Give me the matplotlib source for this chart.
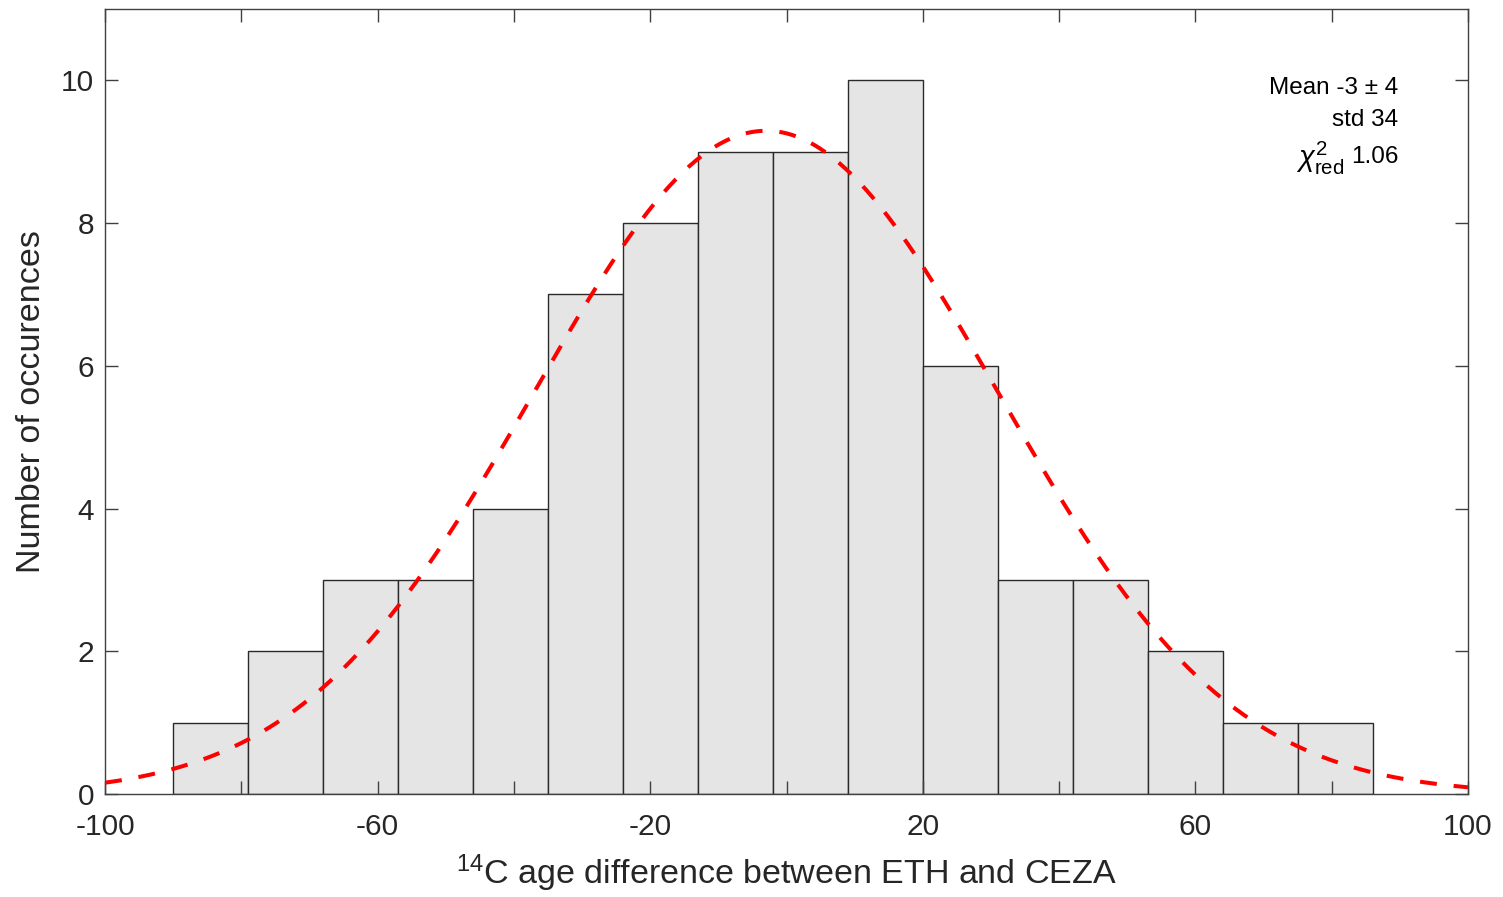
import matplotlib
matplotlib.use('Agg')
import matplotlib.pyplot as plt
import numpy as np

plt.rcParams['font.family'] = ['Liberation Sans', 'DejaVu Sans']
plt.rcParams['mathtext.fontset'] = 'custom'
plt.rcParams['mathtext.rm'] = 'Liberation Sans'
plt.rcParams['mathtext.it'] = 'Liberation Sans:italic'

# histogram of 14C age differences (ETH - CEZA)
bin_start = -90
bin_width = 11
counts = [1, 2, 3, 3, 4, 7, 8, 9, 9, 10, 6, 3, 3, 2, 1, 1]

# fitted gaussian
fit_mean = -3
fit_std = 34

stats_lines = ['Mean -3 \u00b1 4', 'std 34']
chi_label = r'$\chi^2_{\mathrm{red}}$'
chi_value = '1.06'

x_ticks = [-100, -80, -60, -40, -20, 0, 20, 40, 60, 80, 100]
x_tick_labels = ['-100', '', '-60', '', '-20', '', '20', '', '60', '', '100']
y_ticks = [0, 2, 4, 6, 8, 10]

edges = bin_start + bin_width * np.arange(len(counts) + 1)
n_total = sum(counts)

fig = plt.figure(figsize=(15.03, 8.97), dpi=100)
ax = fig.add_axes([0.0699, 0.1148, 0.9068, 0.8752])

ax.bar(edges[:-1], counts, width=bin_width, align='edge',
       color='#e5e5e5', edgecolor='#2a2a2a', linewidth=1.0, zorder=1)

xs = np.linspace(-100, 100, 400)
amp = n_total * bin_width / (fit_std * np.sqrt(2 * np.pi))
ys = amp * np.exp(-(xs - fit_mean) ** 2 / (2 * fit_std ** 2))
ax.plot(xs, ys, color='red', linewidth=2.9, dashes=(4.2, 4.2), zorder=3)

ax.set_xlim(-100, 100)
ax.set_ylim(0, 11)
ax.set_xticks(x_ticks)
ax.set_xticklabels(x_tick_labels)
ax.set_yticks(y_ticks)

axis_col = '#404040'
for sp in ax.spines.values():
    sp.set_color(axis_col)
    sp.set_linewidth(1.0)
ax.tick_params(direction='in', length=9.5, width=1.0, color=axis_col,
               labelcolor='#262626', labelsize=21.5, top=True, right=True)
ax.tick_params(axis='x', pad=14)
ax.tick_params(axis='y', pad=8)

ax.set_xlabel(r'$^{14}$C age difference between ETH and CEZA',
              fontsize=24.5, color='#262626', labelpad=8)
ax.set_ylabel('Number of occurences', fontsize=24.5, color='#262626',
              labelpad=10)

y_pos = [0.899, 0.859]
for txt, yp in zip(stats_lines, y_pos):
    ax.text(0.949, yp, txt, transform=ax.transAxes, ha='right', va='center',
            fontsize=17.5, color='black')
ax.text(0.949, 0.812, chi_value, transform=ax.transAxes, ha='right',
        va='center', fontsize=17.5, color='black')
ax.text(0.9095, 0.810, chi_label, transform=ax.transAxes, ha='right',
        va='center', fontsize=21, color='black')

fig.savefig('out.png', dpi=100)
